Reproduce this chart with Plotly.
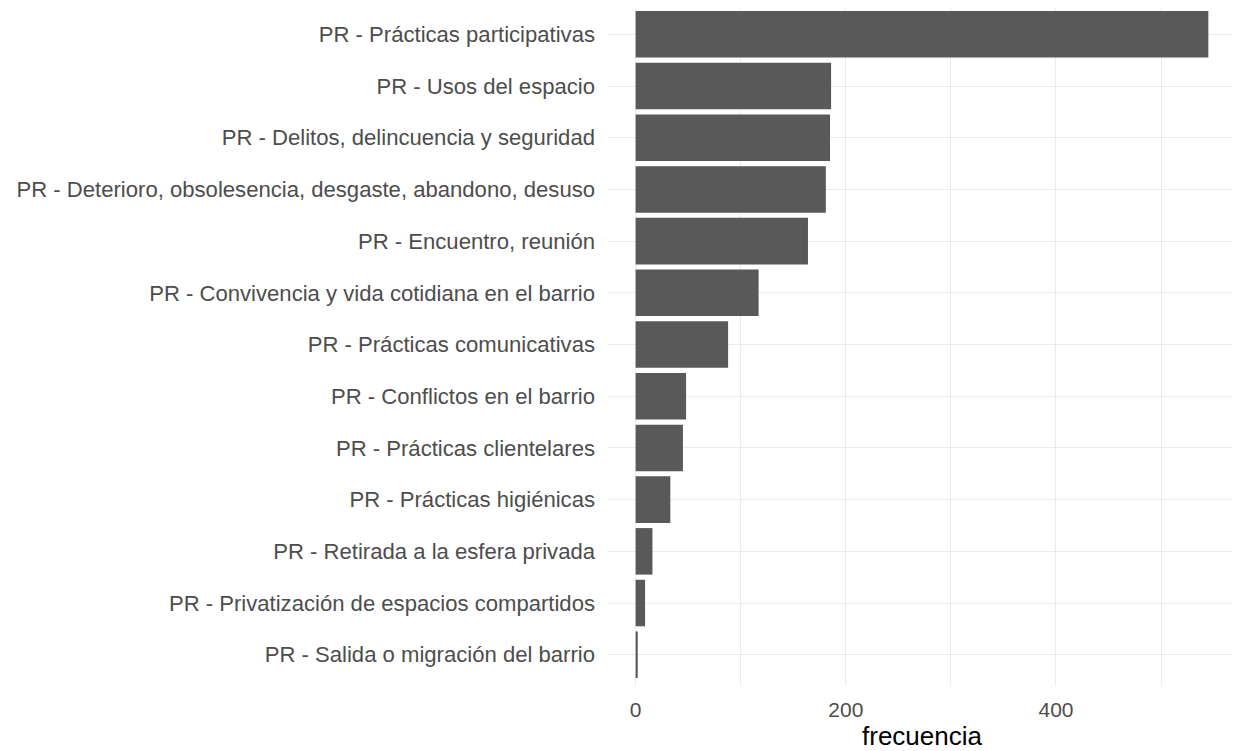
import plotly.graph_objects as go

categories = [
    "PR - Prácticas participativas",
    "PR - Usos del espacio",
    "PR - Delitos, delincuencia y seguridad",
    "PR - Deterioro, obsolesencia, desgaste, abandono, desuso",
    "PR - Encuentro, reunión",
    "PR - Convivencia y vida cotidiana en el barrio",
    "PR - Prácticas comunicativas",
    "PR - Conflictos en el barrio",
    "PR - Prácticas clientelares",
    "PR - Prácticas higiénicas",
    "PR - Retirada a la esfera privada",
    "PR - Privatización de espacios compartidos",
    "PR - Salida o migración del barrio",
]
frecuencia = [545, 186, 185, 181, 164, 117, 88, 48, 45, 33, 16, 9, 2]
x_ticks = [0, 200, 400]

fig = go.Figure(go.Bar(
    x=frecuencia, y=categories, orientation="h",
    marker=dict(color="#595959", line=dict(width=0)),
))

n = len(categories)
xmax = max(frecuencia)
pad = xmax * 0.05

fig.update_layout(
    width=1232, height=743,
    margin=dict(l=599, r=3, t=0, b=65, autoexpand=False),
    paper_bgcolor="white", plot_bgcolor="white",
    bargap=0.1,
    showlegend=False,
    font=dict(family="Liberation Sans, Arial, sans-serif", color="#4d4d4d", size=16),
)
fig.update_xaxes(
    automargin=False,
    range=[-pad, xmax + pad],
    tickvals=x_ticks, ticktext=[str(v) for v in x_ticks],
    showgrid=True, gridcolor="#ebebeb", gridwidth=1.2,
    minor=dict(tickvals=[100, 300, 500], showgrid=True, gridcolor="#ebebeb", gridwidth=0.8),
    zeroline=False, showline=False, ticks="",
    ticklabelstandoff=9,
    tickfont=dict(size=21, color="#4d4d4d"),
    title=dict(text="frecuencia", font=dict(size=26, color="black"), standoff=6),
)
fig.update_yaxes(
    automargin=False,
    range=[n - 0.395, -0.509],
    showgrid=True, gridcolor="#ebebeb", gridwidth=1.2,
    zeroline=False, showline=False, ticks="",
    ticklabelstandoff=11,
    tickfont=dict(size=22.1, color="#4d4d4d"),
)

fig.write_html("out.html")
